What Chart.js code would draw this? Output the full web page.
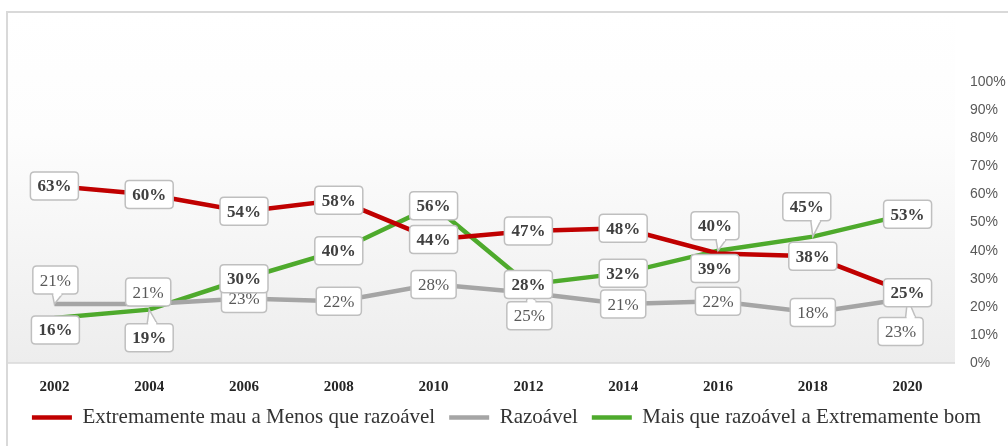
<!DOCTYPE html>
<html>
<head>
<meta charset="utf-8">
<title>Avaliação 2002-2020</title>
<script src="https://cdn.jsdelivr.net/npm/chart.js@4"></script>
<style>
html, body { margin: 0; padding: 0; background: #fff; }
#wrap { width: 1008px; height: 446px; }
</style>
</head>
<body>
<div id="wrap"><canvas id="trendChart" width="1008" height="446"></canvas></div>
<script>
// values (percent)
const years = ['2002', '2004', '2006', '2008', '2010', '2012', '2014', '2016', '2018', '2020'];
const mauValues = [63, 60, 54, 58, 44, 47, 48, 39, 38, 25];
const razoavelValues = [21, 21, 23, 22, 28, 25, 21, 22, 18, 23];
const bomValues = [16, 19, 30, 40, 56, 28, 32, 40, 45, 53];
const yTicks = [0, 10, 20, 30, 40, 50, 60, 70, 80, 90, 100];

const serif = "'Liberation Serif', 'Times New Roman', serif";

// where a data label sits away from its point: [dx, dy] per dataset / index
const labelNudges = {
    0: { 7: [-3, 15] },
    1: { 0: [1, -24], 1: [-1, -12], 5: [1, 23], 9: [-7, 33] },
    2: { 0: [1, 12], 1: [0, 28], 7: [-3, -25], 8: [-6, -30] }
};

const frameAndBackground = {
    id: 'frameAndBackground',
    beforeDraw(chart) {
        const { ctx, chartArea: a, width, height } = chart;
        ctx.save();
        const g = ctx.createLinearGradient(0, a.top, 0, a.bottom);
        g.addColorStop(0, '#ffffff');
        g.addColorStop(0.35, '#fdfdfd');
        g.addColorStop(1, '#ededed');
        ctx.fillStyle = g;
        ctx.fillRect(a.left, a.top, a.right - a.left, a.bottom - a.top);
        ctx.strokeStyle = '#d9d9d9';
        ctx.lineWidth = 2;
        ctx.beginPath();
        ctx.moveTo(a.left, height);
        ctx.lineTo(a.left, a.top);
        ctx.lineTo(width, a.top);
        ctx.stroke();
        ctx.lineWidth = 1.5;
        ctx.beginPath();
        ctx.moveTo(a.left, a.bottom);
        ctx.lineTo(a.right, a.bottom);
        ctx.stroke();
        ctx.restore();
    }
};

function roundRect(ctx, x, y, w, h, r) {
    ctx.beginPath();
    ctx.moveTo(x + r, y);
    ctx.lineTo(x + w - r, y);
    ctx.quadraticCurveTo(x + w, y, x + w, y + r);
    ctx.lineTo(x + w, y + h - r);
    ctx.quadraticCurveTo(x + w, y + h, x + w - r, y + h);
    ctx.lineTo(x + r, y + h);
    ctx.quadraticCurveTo(x, y + h, x, y + h - r);
    ctx.lineTo(x, y + r);
    ctx.quadraticCurveTo(x, y, x + r, y);
    ctx.closePath();
}

const calloutLabels = {
    id: 'calloutLabels',
    afterDatasetsDraw(chart) {
        const ctx = chart.ctx;
        const drawOrder = [1, 2, 0];
        ctx.save();
        drawOrder.forEach(di => {
            const ds = chart.data.datasets[di];
            const meta = chart.getDatasetMeta(di);
            const bold = di !== 1;
            ctx.font = (bold ? 'bold ' : '') + '17px ' + serif;
            meta.data.forEach((pt, i) => {
                const text = ds.data[i] + '%';
                const nudge = (labelNudges[di] && labelNudges[di][i]) || [0, 0];
                const w = ctx.measureText(text).width + 14;
                const h = 28;
                const cx = pt.x + nudge[0];
                const cy = pt.y + nudge[1];
                const bx = cx - w / 2, by = cy - h / 2;
                const below = pt.y > by + h + 2;
                const above = pt.y < by - 2;
                ctx.lineWidth = 1.5;
                ctx.strokeStyle = '#bfbfbf';
                ctx.fillStyle = '#ffffff';
                let b0, b1, edge;
                if (below || above) {
                    edge = below ? by + h : by;
                    b0 = Math.max(bx + 5, Math.min(pt.x - 2, bx + w - 15));
                    b1 = b0 + 10;
                    ctx.beginPath();
                    ctx.moveTo(b0, edge);
                    ctx.lineTo(pt.x, pt.y);
                    ctx.lineTo(b1, edge);
                    ctx.closePath();
                    ctx.fill();
                    ctx.stroke();
                }
                roundRect(ctx, bx, by, w, h, 4);
                ctx.fill();
                ctx.stroke();
                if (below || above) {
                    ctx.fillRect(b0 + 1, edge - 1.5, b1 - b0 - 2, 3);
                }
                ctx.fillStyle = bold ? '#404040' : '#595959';
                ctx.textAlign = 'center';
                ctx.textBaseline = 'middle';
                ctx.fillText(text, cx, cy + 1);
            });
        });
        ctx.restore();
    }
};

const ctx = document.getElementById('trendChart').getContext('2d');
const trendChart = new Chart(ctx, {
    type: 'line',
    data: {
        labels: years,
        datasets: [{
            label: 'Extremamente mau a Menos que razoável',
            data: mauValues,
            borderColor: '#c00000',
            backgroundColor: '#c00000',
            borderWidth: 4.5
        }, {
            label: 'Razoável',
            data: razoavelValues,
            borderColor: '#a5a5a5',
            backgroundColor: '#a5a5a5',
            borderWidth: 4.5
        }, {
            label: 'Mais que razoável a Extremamente bom',
            data: bomValues,
            borderColor: '#4eaa2c',
            backgroundColor: '#4eaa2c',
            borderWidth: 4.5
        }]
    },
    options: {
        responsive: false,
        animation: false,
        elements: {
            point: { radius: 0, hoverRadius: 0 },
            line: { tension: 0 }
        },
        layout: { padding: { left: 7, top: 12, right: 2, bottom: 8 } },
        scales: {
            x: {
                offset: true,
                grid: { display: false, drawTicks: false },
                border: { display: false },
                afterFit: scale => { scale.height = 30; },
                ticks: {
                    padding: 15,
                    color: '#262626',
                    font: { family: serif, size: 15, weight: 'bold' }
                }
            },
            y: {
                position: 'right',
                min: 0,
                max: 125,
                grid: { display: false, drawTicks: false },
                border: { display: false },
                afterFit: scale => {
                    scale.width = 51;
                    scale.paddingTop = 0;
                    scale.paddingBottom = 0;
                },
                ticks: {
                    stepSize: 10,
                    padding: 15,
                    color: '#595959',
                    font: { family: "'Liberation Sans', Arial, sans-serif", size: 14 },
                    callback: v => yTicks.includes(v) ? v + '%' : ''
                }
            }
        },
        plugins: {
            tooltip: { enabled: false },
            legend: {
                position: 'bottom',
                labels: {
                    color: '#333333',
                    font: { family: serif, size: 21 },
                    usePointStyle: true,
                    pointStyle: 'line',
                    pointStyleWidth: 40,
                    padding: 14
                }
            }
        }
    },
    plugins: [frameAndBackground, calloutLabels]
});
</script>
</body>
</html>
